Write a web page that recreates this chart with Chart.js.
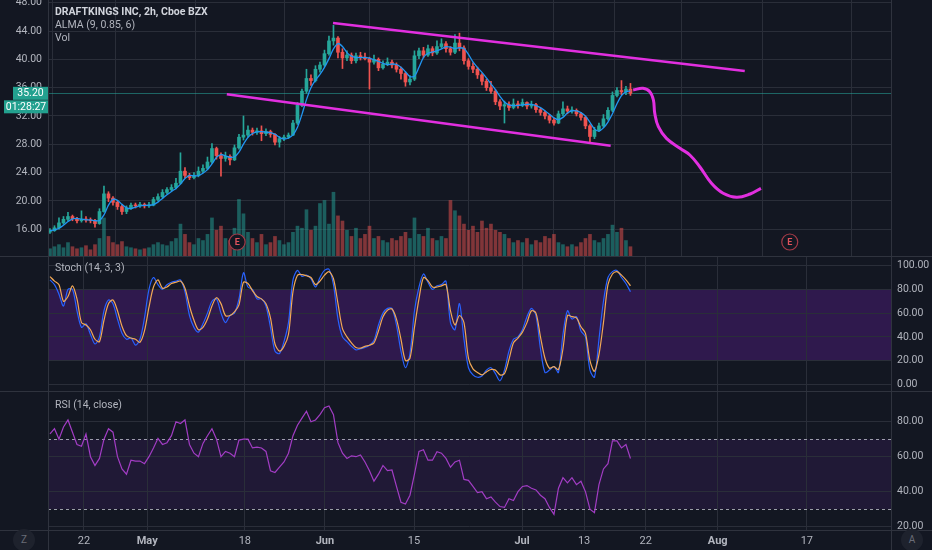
<!DOCTYPE html>
<html>
<head>
<meta charset="utf-8">
<script src="https://cdn.jsdelivr.net/npm/chart.js@4/dist/chart.umd.min.js"></script>
<style>
  html, body { margin: 0; padding: 0; background: #131722; }
  #wrap { position: relative; width: 932px; height: 550px; overflow: hidden; background: #131722;
          font-family: Roboto, "Noto Sans", sans-serif; }
  .pane { position: absolute; left: 0; width: 932px; }
  .lbl { position: absolute; left: 55px; font-size: 10.5px; line-height: 13px; color: #b2b5be; white-space: nowrap; }
  .vline { position: absolute; top: 0; width: 1px; height: 550px; background: #2f333e; }
  .hline { position: absolute; left: 0; width: 932px; height: 1px; background: #2f333e; }
  .btn { position: absolute; width: 22px; height: 22px; border-radius: 50%; background: #1e222d;
         color: #6a6d78; font-size: 10px; text-align: center; line-height: 22px; }
</style>
</head>
<body>
<div id="wrap">
  <div class="pane" style="top:0;height:257px"><canvas id="main"></canvas></div>
  <div class="pane" style="top:257px;height:134px"><canvas id="stoch"></canvas></div>
  <div class="pane" style="top:391px;height:159px"><canvas id="rsi"></canvas></div>

  <div class="vline" style="left:48px"></div>
  <div class="vline" style="left:891px"></div>
  <div class="hline" style="top:256px"></div>
  <div class="hline" style="top:391px"></div>
  <div class="hline" style="top:530px"></div>

  <div class="lbl" style="top:5px;color:#d1d4dc;font-weight:bold">DRAFTKINGS INC, 2h, Cboe BZX</div>
  <div class="lbl" style="top:18px">ALMA (9, 0.85, 6)</div>
  <div class="lbl" style="top:31px">Vol</div>
  <div class="lbl" style="top:261px">Stoch (14, 3, 3)</div>
  <div class="lbl" style="top:398px">RSI (14, close)</div>

  <div class="btn" style="left:13px;top:529px">Z</div>
  <div class="btn" style="left:901px;top:529px">A</div>
</div>

<script>
// one slot = half a trading day (two 2h bars), Apr 16 .. Jul 20
const X_MIN = -0.44, X_MAX = 186.9;
const tickPos    = [7.56, 21.6, 43.3, 61.1, 80.9, 104.9, 118.7, 132.4, 148.4, 168.2];
const tickLabels = ['22', 'May', '18', 'Jun', '15', 'Jul', '13', '22', 'Aug', '17'];

const firstOpen = 15.6;
const closes = [
  15.8,16.2,16.9,17.4,17.8,17.5,17.2,17.4,17.3,17.2,
  16.8,18.5,21.0,20.4,19.8,19.2,18.5,19.0,19.4,19.3,
  19.5,19.3,19.4,20.2,20.6,21.2,21.6,21.9,22.5,24.2,
  23.6,23.3,23.6,24.2,24.6,25.5,27.4,26.4,26.0,26.3,
  25.8,27.5,29.0,29.3,30.0,29.7,29.9,29.5,29.8,29.4,
  28.3,28.8,29.0,29.3,31.0,33.5,35.5,37.3,37.0,38.6,
  39.2,40.8,42.6,43.0,41.0,40.2,40.6,39.8,40.5,40.3,
  40.1,39.6,40.0,38.8,39.3,39.6,39.2,38.6,38.0,36.8,
  37.2,40.5,41.2,40.6,41.5,40.9,41.8,42.2,41.5,41.0,
  42.3,41.6,39.8,39.0,38.6,37.8,36.9,36.0,35.5,34.0,
  33.4,33.6,33.2,33.7,33.5,33.9,33.4,33.6,32.9,32.5,
  32.0,31.4,31.0,32.3,33.0,32.7,32.8,32.3,31.8,30.6,
  29.1,30.0,30.6,31.6,32.8,34.9,35.6,35.4,35.8,35.2
];
const highs = [
  16.1,16.5,17.6,17.8,18.4,18.0,17.7,18.6,17.8,17.6,
  17.4,18.9,22.1,21.3,20.6,20.0,19.4,19.3,19.7,19.7,
  19.8,19.7,19.8,20.5,21.0,21.6,21.9,22.3,23.2,26.8,
  24.7,23.9,24.0,24.8,25.1,26.2,28.1,27.6,26.8,26.9,
  26.5,27.9,29.4,32.0,30.6,30.3,30.3,30.6,30.2,30.0,
  29.5,29.1,29.3,29.6,31.4,33.9,35.8,38.6,37.8,39.1,
  39.6,41.3,43.3,44.8,43.2,41.5,41.2,40.9,40.9,41.0,
  40.9,40.3,40.6,40.2,39.8,40.2,39.9,39.5,38.9,38.2,
  37.7,41.2,41.6,41.7,42.0,41.8,42.6,42.9,42.5,41.8,
  43.5,43.7,41.9,40.1,39.5,38.9,38.0,37.2,36.9,35.7,
  34.3,34.1,34.0,34.4,34.1,34.4,34.0,34.1,33.8,33.1,
  32.7,32.2,31.7,32.7,34.0,33.4,33.3,33.0,32.5,32.0,
  30.8,30.4,31.0,32.2,33.2,35.4,36.0,37.0,36.2,36.6
];
const lows = [
  15.4,15.7,16.0,16.7,17.2,17.2,16.9,17.0,17.0,16.9,
  16.3,16.7,18.4,19.9,19.4,18.8,18.1,18.2,18.8,19.0,
  19.1,19.0,19.1,19.3,20.0,20.4,21.0,21.4,21.7,22.4,
  23.3,23.0,23.1,23.4,24.0,24.4,25.3,25.9,23.5,25.6,
  25.1,25.7,27.3,28.6,29.0,29.3,29.4,28.5,29.2,29.0,
  27.9,27.6,28.5,28.8,29.2,30.8,33.3,35.2,36.3,36.8,
  38.2,39.0,40.6,42.0,40.2,38.7,39.8,39.4,39.5,39.9,
  39.9,35.8,39.3,38.4,38.6,39.1,38.8,38.2,37.2,36.2,
  36.4,37.0,40.1,40.2,40.4,40.5,40.7,41.6,41.0,40.6,
  40.8,41.2,39.3,38.6,38.1,37.3,36.4,35.6,35.2,33.6,
  32.9,31.0,32.8,33.0,33.1,33.3,33.0,33.1,32.5,32.1,
  31.6,31.0,30.7,30.9,32.0,32.3,32.4,32.0,31.4,30.2,
  28.2,28.8,29.8,30.4,31.4,32.6,34.7,35.0,35.0,34.9
];
const volumes = [
  8,10,12,9,14,10,8,9,11,7,
  12,18,38,20,14,12,15,10,9,8,
  7,8,9,12,14,12,11,15,18,32,
  22,14,12,18,16,22,38,26,30,18,
  16,28,56,42,24,18,14,22,12,14,
  20,16,12,14,24,30,28,46,26,30,
  52,55,32,63,40,35,26,20,28,18,
  22,30,18,20,16,14,18,16,20,24,
  18,38,22,20,28,18,16,20,18,55,
  45,40,32,26,30,24,35,28,32,26,
  24,22,18,14,16,14,18,12,16,14,
  20,18,22,14,12,10,12,10,14,18,
  22,16,14,18,22,31,24,28,16,10
];
const stochK = [
  88,84,76,66,80,80,62,48,51,42,
  34,40,62,71,68,55,43,38,39,33,
  38,56,80,90,84,80,84,86,87,88,
  78,58,48,44,51,60,70,72,60,52,
  58,60,72,94,82,80,72,72,66,48,
  28,26,36,52,88,96,91,92,89,82,
  90,96,97,84,55,40,36,32,29,30,
  31,33,37,50,60,64,64,50,28,14,
  26,62,82,93,86,80,83,84,87,52,
  46,68,38,14,8,6,7,12,14,9,
  3,12,28,38,40,46,57,64,58,30,
  10,12,15,10,42,62,55,57,45,40,
  12,6,38,70,90,95,96,90,85,78
];
const stochD = [
  90.8,87,84,70,74,83,72,52,50,46,
  38,36,54,68,71,62,49,41,39,38,
  35.4,45,65,82,88,81,82,85,86,87,
  81,66,54,46,48,55,66,73,68,58,
  58,61,67,86,85,79,74,72,68,56,
  34,28,32,42,78,92,92.5,91.5,90,84,
  87,92,95,89,68,47,40,35,31,30.5,
  32,33,35,45,57,62.5,63.5,55,38,20,
  22,48,72,90,87.4,82,82,83,84,62,
  50,58,52,22,13,10,8,10.5,12.5,12,
  8,9,21,35,39,44,52,62,60,40,
  22,13.6,15,12.5,30,58,57,56,48.5,43,
  20,11,25,52,84,93,95,92,88,83
];
const rsi = [
  73,76,70,77,81,74,67,66,73,60,
  55,59,70,76,74,60,53,50,58,57.5,
  57.5,56,60,65,70.5,67,68,72,80,79,
  81,67,62,60,67.6,72,76,70,60,63,
  62,60,69.5,70,70,65,65.5,65,63,52,
  51,54,57,62,72,78,82,86,80,81,
  84,88,89,84,68,62,59,60.5,60,61,
  57,52,46,50,55,52,52.4,43,34,33,
  38,50,63,64,58,58,62.9,62,59,54,
  57,58,47,46.5,43,39.5,40,36,37,34,
  31.5,31,36,35,40,43,43.5,42,41,38,
  36,31,27,42,48,45,48,44,46,40,
  30,28,44,53,56,69,69,65,67,59
];

// drawings, anchored in (slot, price)
const upperTrendX = [62.9, 154.4], upperTrendY = [45.13, 38.35];
const lowerTrendX = [39.3, 124.6], lowerTrendY = [35.06, 27.8];
const projX = [129.6, 131.8, 133.3, 134.1, 134.4, 135.2, 137.0, 140.0, 142.2, 144.4, 147.0, 149.6, 152.6, 155.6, 158.0];
const projY = [35.67, 35.91, 35.43, 34.25, 32.38, 30.48, 28.84, 27.43, 26.49, 24.83, 22.49, 21.08, 20.51, 20.98, 21.78];
const earningsX = [41.6, 164.4];

const FONT = 'Roboto, "Noto Sans", sans-serif';
const TXT = '#b2b5be', GRID = '#2a2e39', PINK = '#e22fe0';
const UP = '#26a69a', DOWN = '#ef5350';

const opens = closes.map((c, i) => i === 0 ? firstOpen : closes[i - 1]);
const isUp = closes.map((c, i) => c >= opens[i]);
const candleCols = isUp.map(u => u ? UP : DOWN);
const volCols = isUp.map(u => u ? 'rgba(38,166,154,0.5)' : 'rgba(239,83,80,0.5)');
const lastClose = closes[closes.length - 1];

// ALMA(9, 0.85, 6) of the 2h bars, approximated on these half-day slots
function alma(src, len, off, sig) {
  const m = off * (len - 1), s = len / sig;
  return src.map((_, i) => {
    let sum = 0, norm = 0;
    for (let j = 0; j < len; j++) {
      const k = i - (len - 1) + j;
      if (k < 0) continue;
      const w = Math.exp(-((j - m) ** 2) / (2 * s * s));
      sum += src[k] * w; norm += w;
    }
    return sum / norm;
  });
}
const almaVals = alma(closes, 6, 0.7, 6);

const pts = (xs, ys) => xs.map((x, i) => ({ x: x, y: ys[i] }));
const series = arr => arr.map((v, i) => ({ x: i, y: v }));
const noPad = s => { s.paddingTop = 0; s.paddingBottom = 0; s.paddingLeft = 0; s.paddingRight = 0; };

function xScale(showLabels) {
  return {
    type: 'linear', min: X_MIN, max: X_MAX, offset: false,
    grid: { color: GRID, drawTicks: false },
    border: { display: false },
    ticks: {
      display: showLabels, autoSkip: false, maxRotation: 0, padding: 5, color: TXT,
      font: ctx => ({ family: FONT, size: 11, weight: /[A-Za-z]/.test(tickLabels[ctx.index] || '') ? 'bold' : 'normal' }),
      callback: (v, i) => tickLabels[i]
    },
    afterBuildTicks: s => { s.ticks = tickPos.map(v => ({ value: v })); },
    afterFit: s => { s.height = showLabels ? 20 : 0; noPad(s); }
  };
}
function yRight(min, max) {
  return {
    position: 'right', min: min, max: max,
    grid: { color: GRID, drawTicks: false },
    border: { display: false },
    ticks: { stepSize: 20, includeBounds: false, padding: 6, color: TXT,
             font: { family: FONT, size: 10.5 }, callback: v => v.toFixed(2) },
    afterFit: s => { s.width = 41; noPad(s); }
  };
}
const base = {
  responsive: true, maintainAspectRatio: false, animation: false, events: [],
  plugins: { legend: { display: false }, tooltip: { enabled: false } }
};

const band = (lo, hi, color, dashed) => ({
  id: 'band',
  beforeDraw(chart) {
    const { ctx, chartArea: a, scales: { y } } = chart;
    ctx.save();
    ctx.fillStyle = color;
    ctx.fillRect(a.left, y.getPixelForValue(hi), a.right - a.left, y.getPixelForValue(lo) - y.getPixelForValue(hi));
    ctx.restore();
  },
  beforeDatasetsDraw(chart) {
    if (!dashed) return;
    const { ctx, chartArea: a, scales: { y } } = chart;
    ctx.save();
    ctx.strokeStyle = 'rgba(190,193,202,0.8)';
    ctx.lineWidth = 1;
    ctx.setLineDash([3, 3]);
    [lo, hi].forEach(v => {
      const py = Math.round(y.getPixelForValue(v)) + 0.5;
      ctx.beginPath(); ctx.moveTo(a.left, py); ctx.lineTo(a.right, py); ctx.stroke();
    });
    ctx.restore();
  }
});

const mainDecor = {
  id: 'mainDecor',
  beforeDatasetsDraw(chart) {
    const { ctx, chartArea: a, scales: { y } } = chart;
    const py = Math.round(y.getPixelForValue(lastClose)) + 0.5;
    ctx.save();
    ctx.strokeStyle = 'rgba(38,166,154,0.55)';
    ctx.lineWidth = 1;
    ctx.beginPath(); ctx.moveTo(a.left, py); ctx.lineTo(a.right, py); ctx.stroke();
    ctx.restore();
  },
  afterDraw(chart) {
    const { ctx, chartArea: a, scales: { x, y } } = chart;
    ctx.save();
    // earnings markers
    earningsX.forEach(v => {
      const px = x.getPixelForValue(v), py = a.bottom - 15;
      ctx.beginPath(); ctx.arc(px, py, 8, 0, Math.PI * 2);
      ctx.fillStyle = '#131722'; ctx.fill();
      ctx.strokeStyle = '#a53b48'; ctx.lineWidth = 1.2; ctx.stroke();
      ctx.fillStyle = '#e0525c'; ctx.font = 'bold 9px ' + FONT;
      ctx.textAlign = 'center'; ctx.textBaseline = 'middle';
      ctx.fillText('E', px, py + 0.5);
    });
    // last price + countdown labels
    const py = y.getPixelForValue(lastClose);
    ctx.fillStyle = '#23a18f';
    ctx.fillRect(13, py - 6.5, 35, 13);
    ctx.fillRect(4, py + 7, 44, 13);
    ctx.fillStyle = '#ffffff';
    ctx.font = '10.5px ' + FONT;
    ctx.textAlign = 'center'; ctx.textBaseline = 'middle';
    ctx.fillText(lastClose.toFixed(2), 30.5, py + 0.5);
    ctx.fillText('01:28:27', 26, py + 14);
    ctx.restore();
  }
};

new Chart(document.getElementById('main'), {
  type: 'bar',
  data: {
    datasets: [
      { type: 'line', data: pts(upperTrendX, upperTrendY), borderColor: PINK, borderWidth: 2.5, pointRadius: 0, order: 1 },
      { type: 'line', data: pts(lowerTrendX, lowerTrendY), borderColor: PINK, borderWidth: 2.5, pointRadius: 0, order: 1 },
      { type: 'line', data: pts(projX, projY), borderColor: PINK, borderWidth: 3, pointRadius: 0, tension: 0.4, order: 1 },
      { type: 'line', data: series(almaVals), borderColor: '#2196f3', borderWidth: 1.3, pointRadius: 0, tension: 0.3, order: 2 },
      { data: closes.map((c, i) => ({ x: i, y: [lows[i], highs[i]] })), backgroundColor: candleCols,
        barThickness: 1, grouped: false, order: 5 },
      { data: closes.map((c, i) => ({ x: i, y: [opens[i], c] })), backgroundColor: candleCols,
        barThickness: 3, minBarLength: 1, grouped: false, order: 4 },
      { data: series(volumes), yAxisID: 'yv', backgroundColor: volCols, barThickness: 3, grouped: false, order: 10 }
    ]
  },
  options: {
    ...base,
    layout: { padding: { left: 0, right: 41, top: 0, bottom: 0 } },
    scales: {
      x: xScale(false),
      y: {
        position: 'left', min: 12.08, max: 48.38,
        grid: { color: GRID, drawTicks: false },
        border: { display: false },
        ticks: { stepSize: 4, includeBounds: false, padding: 6, color: TXT,
                 font: { family: FONT, size: 10.5 }, callback: v => v.toFixed(2) },
        afterFit: s => { s.width = 48; noPad(s); }
      },
      yv: { type: 'linear', display: false, min: 0, max: 250 }
    }
  },
  plugins: [mainDecor]
});

new Chart(document.getElementById('stoch'), {
  type: 'line',
  data: {
    datasets: [
      { data: series(stochD), borderColor: '#f2a957', borderWidth: 1.2, pointRadius: 0, tension: 0.3, order: 1 },
      { data: series(stochK), borderColor: '#2962ff', borderWidth: 1.2, pointRadius: 0, tension: 0.3, order: 2 }
    ]
  },
  options: {
    ...base,
    layout: { padding: { left: 48, right: 0, top: 0, bottom: 0 } },
    scales: { x: xScale(false), y: yRight(-5.6, 107.3) }
  },
  plugins: [band(20, 80, 'rgba(126,30,200,0.26)', false)]
});

new Chart(document.getElementById('rsi'), {
  type: 'line',
  data: {
    datasets: [
      { data: series(rsi), borderColor: '#a23dc4', borderWidth: 1.2, pointRadius: 0, tension: 0 }
    ]
  },
  options: {
    ...base,
    layout: { padding: { left: 48, right: 0, top: 1, bottom: 0 } },
    scales: { x: xScale(true), y: yRight(18.11, 96.97) }
  },
  plugins: [band(30, 70, 'rgba(120,40,190,0.13)', true)]
});
</script>
</body>
</html>
